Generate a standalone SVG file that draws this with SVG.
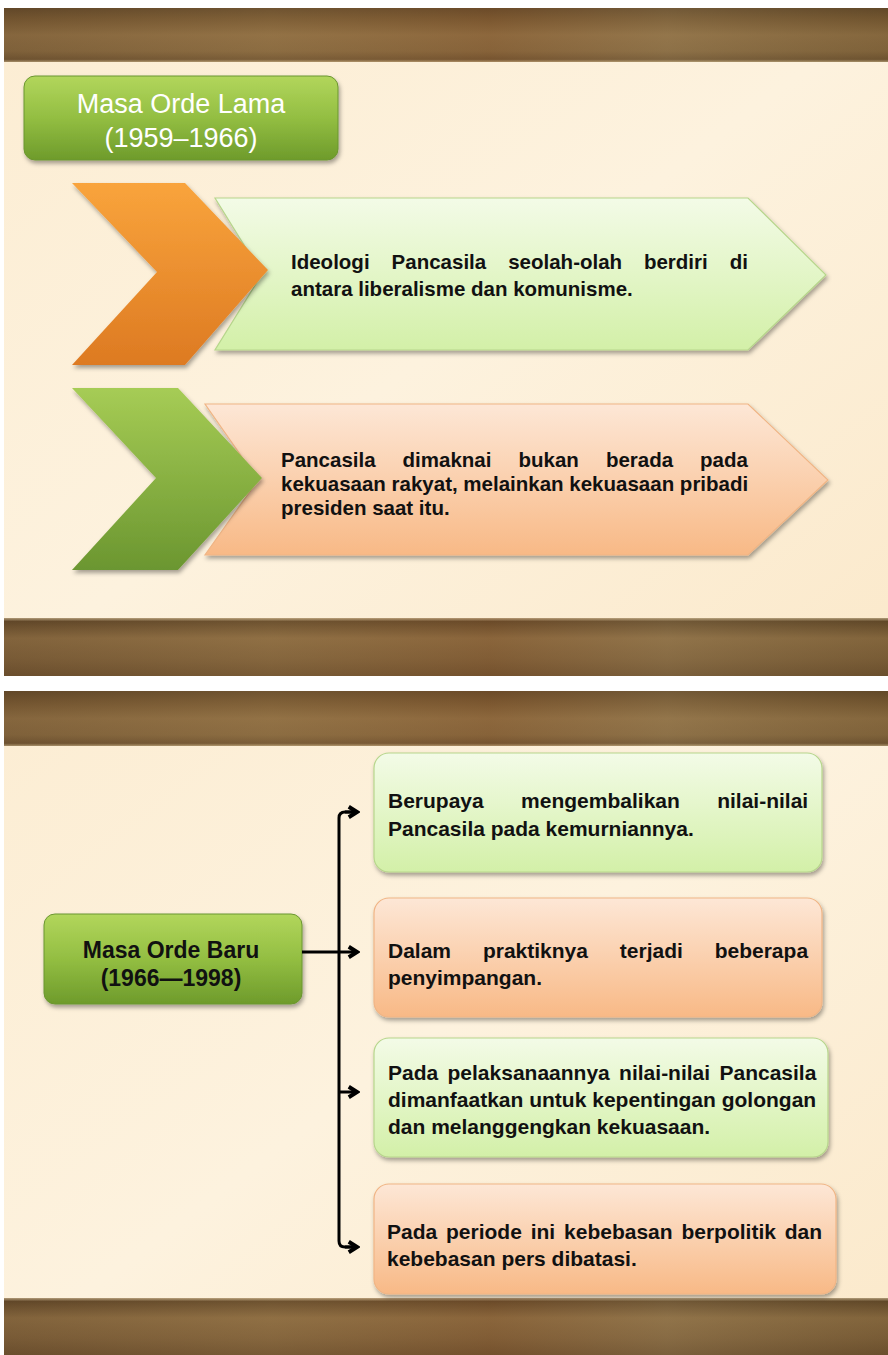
<svg xmlns="http://www.w3.org/2000/svg" width="888" height="1355" viewBox="0 0 888 1355">
<defs>
<style>
.body{font-family:"Liberation Sans",Arial,sans-serif;font-weight:bold;font-size:20.5px;fill:#111}
.body2{font-family:"Liberation Sans",Arial,sans-serif;font-weight:bold;font-size:21px;fill:#111}
.t1{font-family:"Liberation Sans",Arial,sans-serif;font-size:27px;fill:#fff;text-anchor:middle}
.t2{font-family:"Liberation Sans",Arial,sans-serif;font-weight:bold;font-size:23px;fill:#111;text-anchor:middle}
.conn{fill:none;stroke:#000;stroke-width:3}
</style>
<linearGradient id="wood" x1="0" y1="0" x2="0" y2="1">
<stop offset="0" stop-color="#5e4426"/>
<stop offset="0.2" stop-color="#74552f"/>
<stop offset="0.5" stop-color="#8e6d42"/>
<stop offset="0.8" stop-color="#85663d"/>
<stop offset="0.95" stop-color="#6e5230"/>
<stop offset="1" stop-color="#b9a27a"/>
</linearGradient>
<linearGradient id="woodB" x1="0" y1="0" x2="0" y2="1">
<stop offset="0" stop-color="#c8b390"/>
<stop offset="0.06" stop-color="#5e4426"/>
<stop offset="0.35" stop-color="#8a6a40"/>
<stop offset="0.7" stop-color="#7d5e38"/>
<stop offset="1" stop-color="#6a4d2c"/>
</linearGradient>
<linearGradient id="woodH" x1="0" y1="0" x2="1" y2="0">
<stop offset="0" stop-color="#6a5030" stop-opacity="0.25"/>
<stop offset="0.3" stop-color="#a08050" stop-opacity="0.25"/>
<stop offset="0.55" stop-color="#8a5a30" stop-opacity="0.3"/>
<stop offset="0.75" stop-color="#a08a60" stop-opacity="0.3"/>
<stop offset="1" stop-color="#6a5530" stop-opacity="0.25"/>
</linearGradient>
<linearGradient id="paper" x1="0" y1="0" x2="1" y2="1">
<stop offset="0" stop-color="#fcedd3"/>
<stop offset="0.5" stop-color="#fdf2de"/>
<stop offset="1" stop-color="#fbe9cb"/>
</linearGradient>
<linearGradient id="gTitle" x1="0" y1="0" x2="0" y2="1">
<stop offset="0" stop-color="#b2d65c"/>
<stop offset="0.5" stop-color="#93be42"/>
<stop offset="1" stop-color="#6e9b2b"/>
</linearGradient>
<linearGradient id="gOrange" x1="0" y1="0" x2="0" y2="1">
<stop offset="0" stop-color="#f9a43c"/>
<stop offset="1" stop-color="#dd7a22"/>
</linearGradient>
<linearGradient id="gGreenChev" x1="0" y1="0" x2="0" y2="1">
<stop offset="0" stop-color="#a6cc55"/>
<stop offset="1" stop-color="#6b9630"/>
</linearGradient>
<linearGradient id="gLight" x1="0" y1="0" x2="0" y2="1">
<stop offset="0" stop-color="#f3fbe7"/>
<stop offset="1" stop-color="#d3f0a8"/>
</linearGradient>
<linearGradient id="gPeach" x1="0" y1="0" x2="0" y2="1">
<stop offset="0" stop-color="#fde7d6"/>
<stop offset="1" stop-color="#f8b986"/>
</linearGradient>
<filter id="sh" x="-10%" y="-10%" width="125%" height="130%">
<feDropShadow dx="1.5" dy="3" stdDeviation="2" flood-color="#000" flood-opacity="0.35"/>
</filter>
<marker id="ah" viewBox="0 0 10 10" refX="8" refY="5" markerWidth="15" markerHeight="15" markerUnits="userSpaceOnUse" orient="auto">
<path d="M2.5,1.5 L8,5 L2.5,8.5" fill="none" stroke="#000" stroke-width="2.6"/>
</marker>
</defs>

<rect x="0" y="0" width="888" height="1355" fill="#ffffff"/>

<g id="slide1-bg">
<rect x="4" y="8" width="884" height="668" fill="url(#paper)"/>
<rect x="4" y="8" width="884" height="54" fill="url(#wood)"/>
<rect x="4" y="8" width="884" height="54" fill="url(#woodH)"/>
<rect x="4" y="618" width="884" height="58" fill="url(#woodB)"/>
<rect x="4" y="618" width="884" height="58" fill="url(#woodH)"/>
</g>

<g id="slide2-bg">
<rect x="4" y="691" width="884" height="664" fill="url(#paper)"/>
<rect x="4" y="691" width="884" height="55" fill="url(#wood)"/>
<rect x="4" y="691" width="884" height="55" fill="url(#woodH)"/>
<rect x="4" y="1298" width="884" height="57" fill="url(#woodB)"/>
<rect x="4" y="1298" width="884" height="57" fill="url(#woodH)"/>
</g>

<g id="title1">
<rect x="24" y="76" width="314" height="84" rx="11" fill="url(#gTitle)" stroke="#6b9630" stroke-width="1" filter="url(#sh)"/>
<text class="t1" x="181" y="113">Masa Orde Lama</text>
<text class="t1" x="181" y="147">(1959–1966)</text>
</g>

<g id="item1">
<polygon points="215,198 748,198 826,275 748,350 215,350 262,274" fill="url(#gLight)" stroke="#b7d68c" stroke-width="1.2" filter="url(#sh)"/>
<polygon points="72,183 185,183 268,270 185,365 72,365 157,272" fill="url(#gOrange)" filter="url(#sh)"/>
<text class="body" y="269"><tspan x="291">Ideologi</tspan><tspan x="391.6">Pancasila</tspan><tspan x="508.2">seolah-olah</tspan><tspan x="643.9">berdiri</tspan><tspan x="729.7">di</tspan></text>
<text class="body" x="291" y="296">antara liberalisme dan komunisme.</text>
</g>

<g id="item2">
<polygon points="205,404 748,404 828,480 748,555 205,555 258,480" fill="url(#gPeach)" stroke="#f0b585" stroke-width="1.2" filter="url(#sh)"/>
<polygon points="72,388 178,388 262,478 178,570 72,570 156,478" fill="url(#gGreenChev)" filter="url(#sh)"/>
<text class="body" y="467"><tspan x="281">Pancasila</tspan><tspan x="402.6">dimaknai</tspan><tspan x="518.5">bukan</tspan><tspan x="605.9">berada</tspan><tspan x="700.1">pada</tspan></text>
<text class="body" x="281" y="491">kekuasaan rakyat, melainkan kekuasaan pribadi</text>
<text class="body" x="281" y="515">presiden saat itu.</text>
</g>

<g id="title2">
<rect x="44" y="914" width="258" height="90" rx="11" fill="url(#gTitle)" stroke="#6b9630" stroke-width="1" filter="url(#sh)"/>
<text class="t2" x="171" y="958">Masa Orde Baru</text>
<text class="t2" x="171" y="986">(1966—1998)</text>
</g>

<g id="box1">
<rect x="374" y="753" width="448" height="119" rx="15" fill="url(#gLight)" stroke="#b7d68c" stroke-width="1.2" filter="url(#sh)"/>
<text class="body2" y="808"><tspan x="388">Berupaya</tspan><tspan x="521.1">mengembalikan</tspan><tspan x="717.2">nilai-nilai</tspan></text>
<text class="body2" x="388" y="836">Pancasila pada kemurniannya.</text>
</g>

<g id="box2">
<rect x="374" y="898" width="448" height="119" rx="15" fill="url(#gPeach)" stroke="#f0b585" stroke-width="1.2" filter="url(#sh)"/>
<text class="body2" y="958"><tspan x="388">Dalam</tspan><tspan x="482.9">praktiknya</tspan><tspan x="619.8">terjadi</tspan><tspan x="714.7">beberapa</tspan></text>
<text class="body2" x="388" y="985">penyimpangan.</text>
</g>

<g id="box3">
<rect x="374" y="1038" width="454" height="119" rx="15" fill="url(#gLight)" stroke="#b7d68c" stroke-width="1.2" filter="url(#sh)"/>
<text class="body2" x="388" y="1080" word-spacing="3.5">Pada pelaksanaannya nilai-nilai Pancasila</text>
<text class="body2" x="388" y="1107">dimanfaatkan untuk kepentingan golongan</text>
<text class="body2" x="388" y="1134">dan melanggengkan kekuasaan.</text>
</g>

<g id="box4">
<rect x="374" y="1184" width="462" height="110" rx="15" fill="url(#gPeach)" stroke="#f0b585" stroke-width="1.2" filter="url(#sh)"/>
<text class="body2" x="387" y="1239" word-spacing="3">Pada periode ini kebebasan berpolitik dan</text>
<text class="body2" x="387" y="1266">kebebasan pers dibatasi.</text>
</g>

<g id="connectors">
<path class="conn" d="M355,812 H345 Q339,812 339,818 V1241 Q339,1247 345,1247 H355"/>
<path class="conn" d="M345,812 H357" marker-end="url(#ah)"/>
<path class="conn" d="M345,1247 H357" marker-end="url(#ah)"/>
<path class="conn" d="M339,1092 H357" marker-end="url(#ah)"/>
<path class="conn" d="M302,952 H357" stroke-width="4" marker-end="url(#ah)"/>
</g>
</svg>
